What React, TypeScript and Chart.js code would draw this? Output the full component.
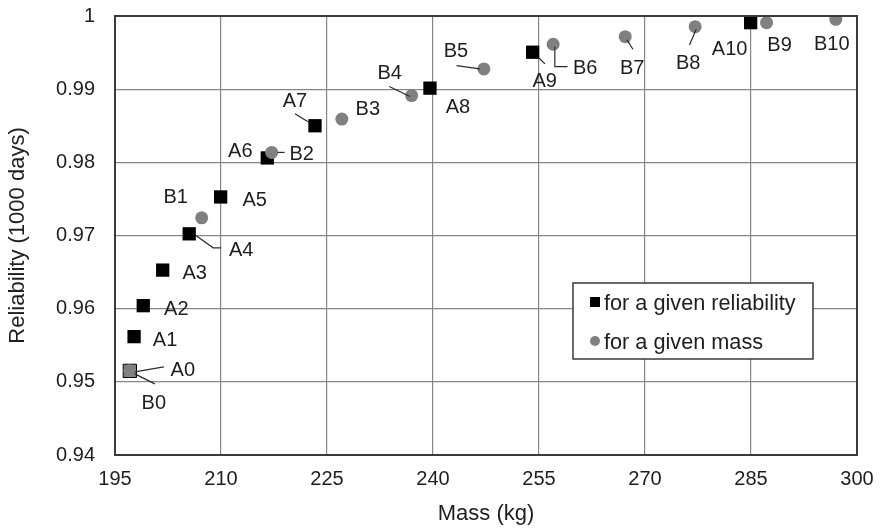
import React, { useEffect, useRef } from 'react';
import { Chart, registerables } from 'chart.js';

Chart.register(...registerables);

// ---- data ----
const massA = [197.1, 197.7, 199.0, 201.75, 205.5, 209.95, 216.55, 223.3, 239.57, 254.1, 284.95];
const relA = [0.9515, 0.95618, 0.96041, 0.96527, 0.97023, 0.97527, 0.9806, 0.985, 0.99014, 0.99505, 0.99909];
const massB = [197.1, 207.27, 217.17, 227.1, 236.98, 247.2, 257.0, 267.2, 277.1, 287.2, 297.0];
const relB = [0.9515, 0.97241, 0.98136, 0.98591, 0.98913, 0.99277, 0.99614, 0.99718, 0.99854, 0.99909, 0.99955];
const namesA = ['A0', 'A1', 'A2', 'A3', 'A4', 'A5', 'A6', 'A7', 'A8', 'A9', 'A10'];
const namesB = ['B0', 'B1', 'B2', 'B3', 'B4', 'B5', 'B6', 'B7', 'B8', 'B9', 'B10'];
const seriesNames = ['for a given reliability', 'for a given mass'];
const xTicks = [195, 210, 225, 240, 255, 270, 285, 300];
const yTicks = [0.94, 0.95, 0.96, 0.97, 0.98, 0.99, 1];
const xTitle = 'Mass (kg)';
const yTitle = 'Reliability (1000 days)';

// ---- label layout (pixel offsets from the marker centre) ----
const offA: number[][] = [[53, -2], [31, 2], [33, 2], [32, 2], [52, 15], [34, 2], [-27, -8], [-20, -26], [28, 18], [12, 28], [-21, 25]];
const leadA: number[][][] = [
  [[5, 1], [34, -4]], [], [], [], [[7, 2], [24, 14], [32, 14]], [], [],
  [[-20, -12], [-7, -4]], [], [[6.6, 6], [12.3, 11.7]], [],
];
const offB: number[][] = [[24, 31], [-26, -22], [30, 0], [26, -11], [-22, -24], [-28, -19], [32, 23], [7, 30], [-7, 35], [13, 21], [-4, 24]];
const leadB: number[][][] = [
  [[5, 3], [25, 13]], [], [[6, 0], [13, 0]], [], [[-22.4, -9], [-1.7, 1]], [[-27.3, -3.3], [-4, 0]],
  [[1.7, 2.4], [1.7, 22.4], [14.4, 22.4]], [[1.7, 3.3], [7.7, 12.6]], [[1, 2.6], [-5.7, 18.3]], [], [],
];

const FONT = "'Liberation Sans', Arial, sans-serif";
const TEXT = '#1e1e1e';
const GRAY = '#808080';

const labelPlugin = {
  id: 'pointLabels',
  afterDatasetsDraw(chart: any) {
    const { ctx, chartArea } = chart;
    const xs = chart.scales.x;
    const ys = chart.scales.y;
    ctx.save();
    // frame
    ctx.strokeStyle = '#3a3a3a';
    ctx.lineWidth = 2;
    ctx.strokeRect(chartArea.left, chartArea.top, chartArea.right - chartArea.left, chartArea.bottom - chartArea.top);

    const drawSet = (mass: number[], rel: number[], names: string[], off: number[][], lead: number[][][]) => {
      for (let i = 0; i < mass.length; i++) {
        const px = xs.getPixelForValue(mass[i]);
        const py = ys.getPixelForValue(rel[i]);
        const l = lead[i];
        if (l && l.length) {
          ctx.beginPath();
          ctx.strokeStyle = '#2a2a2a';
          ctx.lineWidth = 1.2;
          ctx.moveTo(px + l[0][0], py + l[0][1]);
          for (let k = 1; k < l.length; k++) ctx.lineTo(px + l[k][0], py + l[k][1]);
          ctx.stroke();
        }
        ctx.fillStyle = TEXT;
        ctx.font = `20px ${FONT}`;
        ctx.textAlign = 'center';
        ctx.textBaseline = 'alphabetic';
        ctx.fillText(names[i], px + off[i][0], py + off[i][1] + 7.2);
      }
    };
    drawSet(massA, relA, namesA, offA, leadA);
    drawSet(massB, relB, namesB, offB, leadB);

    // legend
    const lx = chartArea.right - 284;
    const ly = chartArea.top + 267;
    ctx.fillStyle = '#ffffff';
    ctx.fillRect(lx, ly, 240, 76);
    ctx.strokeStyle = '#3a3a3a';
    ctx.lineWidth = 1.5;
    ctx.strokeRect(lx, ly, 240, 76);
    ctx.fillStyle = '#000000';
    ctx.fillRect(lx + 17, ly + 14, 10, 10);
    ctx.fillStyle = GRAY;
    ctx.beginPath();
    ctx.arc(lx + 22, ly + 58, 5, 0, Math.PI * 2);
    ctx.fill();
    ctx.fillStyle = TEXT;
    ctx.font = `21.7px ${FONT}`;
    ctx.textAlign = 'left';
    ctx.fillText(seriesNames[0], lx + 31, ly + 19 + 7.7);
    ctx.fillText(seriesNames[1], lx + 31, ly + 58 + 7.7);
    ctx.restore();
  },
};

export default function App() {
  const ref = useRef<HTMLCanvasElement>(null);
  useEffect(() => {
    if (!ref.current) return;
    const chart = new Chart(ref.current, {
      type: 'scatter',
      data: {
        datasets: [
          {
            label: seriesNames[1],
            data: massB.map((m, i) => ({ x: m, y: relB[i] })),
            pointStyle: 'circle',
            pointRadius: 6.5,
            pointBackgroundColor: GRAY,
            pointBorderWidth: 0,
            order: 1,
          },
          {
            label: seriesNames[0],
            data: massA.map((m, i) => ({ x: m, y: relA[i] })),
            pointStyle: 'rect',
            pointRadius: 9.4,
            pointBackgroundColor: massA.map((_, i) => (i === 0 ? GRAY : '#000000')),
            pointBorderColor: '#000000',
            pointBorderWidth: massA.map((_, i) => (i === 0 ? 1 : 0)),
            order: 2,
          },
        ],
      },
      options: {
        responsive: false,
        animation: false,
        layout: { padding: { top: 16, right: 24, left: 0, bottom: 0 } },
        plugins: { legend: { display: false }, tooltip: { enabled: false } },
        scales: {
          x: {
            type: 'linear',
            min: xTicks[0],
            max: xTicks[xTicks.length - 1],
            afterBuildTicks: (s: any) => { s.ticks = xTicks.map((v) => ({ value: v })); },
            afterFit: (s: any) => { s.height = 75; s.paddingLeft = 0; s.paddingRight = 0; },
            grid: { color: '#868686', lineWidth: 1.2, drawTicks: false },
            border: { display: false },
            ticks: { color: TEXT, font: { family: FONT, size: 20 }, padding: 12, maxRotation: 0, autoSkip: false },
            title: { display: true, text: xTitle, color: TEXT, font: { family: FONT, size: 22 }, padding: { top: 0, bottom: 3 } },
          },
          y: {
            type: 'linear',
            min: yTicks[0],
            max: yTicks[yTicks.length - 1],
            afterBuildTicks: (s: any) => { s.ticks = yTicks.map((v) => ({ value: v })); },
            afterFit: (s: any) => { s.width = 115; s.paddingTop = 0; s.paddingBottom = 0; },
            grid: { color: '#868686', lineWidth: 1.2, drawTicks: false },
            border: { display: false },
            ticks: {
              color: TEXT,
              font: { family: FONT, size: 20 },
              padding: 20,
              autoSkip: false,
              callback: (v: any) => (Math.abs(v - 1) < 1e-9 ? '1' : Number(v).toFixed(2)),
            },
            title: { display: true, text: yTitle, color: TEXT, font: { family: FONT, size: 22 }, padding: { top: 5, bottom: 0 } },
          },
        },
      },
      plugins: [labelPlugin],
    });
    return () => chart.destroy();
  }, []);
  return (
    <div style={{ position: 'absolute', left: 0, top: 0, width: 881, height: 530, background: '#fff' }}>
      <canvas ref={ref} width={881} height={530} style={{ width: 881, height: 530, display: 'block' }} />
    </div>
  );
}
